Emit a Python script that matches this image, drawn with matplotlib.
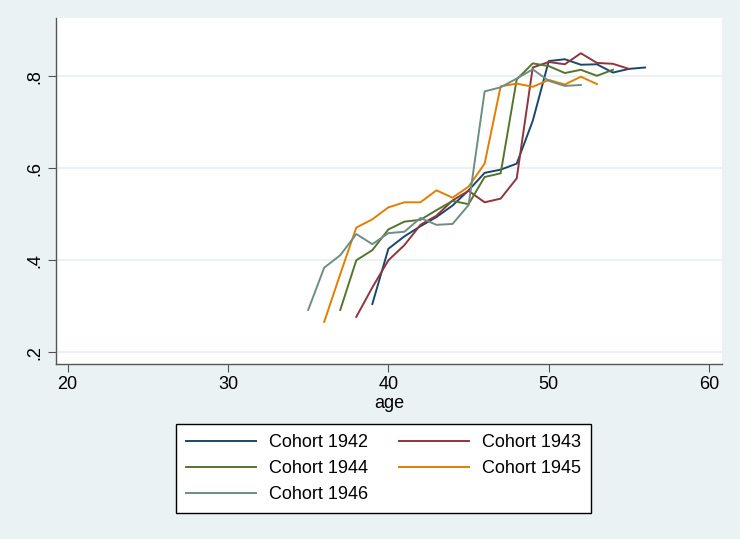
import matplotlib.pyplot as plt

plt.rcParams['font.family'] = ['Liberation Sans', 'DejaVu Sans']

ages_1942 = list(range(39, 57))
vals_1942 = [0.305, 0.425, 0.452, 0.474, 0.494, 0.519, 0.552, 0.590, 0.597, 0.610,
             0.703, 0.833, 0.837, 0.825, 0.826, 0.808, 0.816, 0.819]

ages_1943 = list(range(38, 56))
vals_1943 = [0.277, 0.341, 0.400, 0.433, 0.477, 0.497, 0.530, 0.551, 0.526, 0.534,
             0.578, 0.819, 0.831, 0.826, 0.850, 0.829, 0.827, 0.816]

ages_1944 = list(range(37, 55))
vals_1944 = [0.292, 0.400, 0.422, 0.467, 0.484, 0.488, 0.509, 0.529, 0.522, 0.581,
             0.589, 0.793, 0.828, 0.822, 0.807, 0.814, 0.801, 0.814]

ages_1945 = list(range(36, 54))
vals_1945 = [0.266, 0.370, 0.471, 0.489, 0.515, 0.526, 0.526, 0.552, 0.536, 0.560,
             0.610, 0.778, 0.784, 0.777, 0.792, 0.782, 0.799, 0.783]

ages_1946 = list(range(35, 53))
vals_1946 = [0.292, 0.384, 0.411, 0.457, 0.435, 0.459, 0.462, 0.492, 0.477, 0.479,
             0.520, 0.767, 0.776, 0.795, 0.815, 0.790, 0.779, 0.781]

labels = ['Cohort 1942', 'Cohort 1943', 'Cohort 1944', 'Cohort 1945', 'Cohort 1946']
colors = ['#1a476f', '#90353b', '#55752f', '#e37e00', '#6e8e84']

bg = '#eaf2f3'
fig = plt.figure(figsize=(7.4, 5.39), dpi=100, facecolor=bg)
ax = fig.add_axes([0.0757, 0.3247, 0.9, 0.642])
ax.set_facecolor('white')

series = [(ages_1942, vals_1942), (ages_1943, vals_1943), (ages_1944, vals_1944),
          (ages_1945, vals_1945), (ages_1946, vals_1946)]
handles = []
for (x, y), c, lab in zip(series, colors, labels):
    h, = ax.plot(x, y, color=c, lw=1.4, label=lab)
    handles.append(h)

ax.set_xlim(19.28, 60.8)
ax.set_ylim(0.1746, 0.9267)
ax.set_xticks([20, 30, 40, 50, 60])
ax.set_yticks([0.2, 0.4, 0.6, 0.8])
ax.set_yticklabels(['.2', '.4', '.6', '.8'], rotation=90, va='center')
ax.grid(axis='y', color=bg, lw=1.5)
ax.set_axisbelow(True)

for s in ['top', 'right']:
    ax.spines[s].set_visible(False)
for s in ['left', 'bottom']:
    ax.spines[s].set_color('#555555')
    ax.spines[s].set_linewidth(1.0)
ax.tick_params(colors='#555555', labelcolor='black', labelsize=13, length=6, pad=3)
ax.set_xlabel('age', fontsize=13, labelpad=1)

# legend is filled row by row, matplotlib fills columns first
order = [0, 2, 4, 1, 3]
fig.legend([handles[i] for i in order], [labels[i] for i in order],
           loc='center', bbox_to_anchor=(0.518, 0.130), ncol=2, fontsize=13,
           frameon=True, fancybox=False, edgecolor='black', framealpha=1,
           handlelength=3.9, columnspacing=1.7, handletextpad=0.7,
           labelspacing=0.5, borderpad=0.55)

fig.savefig('out.png', dpi=100, facecolor=bg)
